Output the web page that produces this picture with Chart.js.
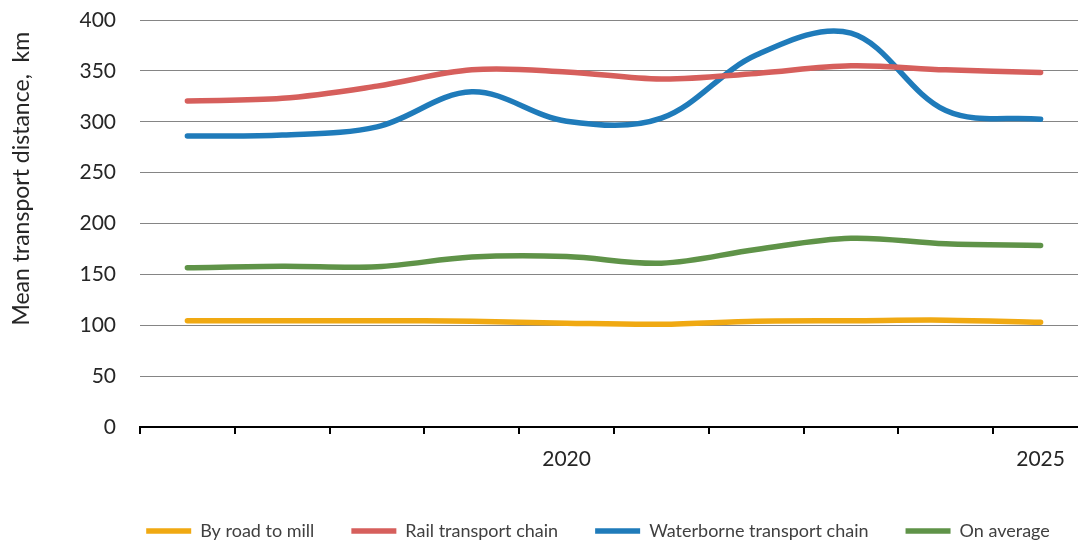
<!DOCTYPE html>
<html>
<head>
<meta charset="utf-8">
<script src="https://cdn.jsdelivr.net/npm/chart.js@4/dist/chart.umd.min.js"></script>
<style>
  html, body { margin: 0; padding: 0; background: #fff; overflow: hidden; }
  #wrap { width: 1078px; height: 541px; overflow: hidden; position: relative; }
  canvas { position: absolute; left: 0; top: 0; }
</style>
</head>
<body>
<div id="wrap"><canvas id="chart" width="1092" height="550"></canvas></div>
<script>
// ── Data ───────────────────────────────────────────
const years    = [2016, 2017, 2018, 2019, 2020, 2021, 2022, 2023, 2024, 2025];
const road     = [104.5, 104.5, 104.5, 104, 102, 101, 104, 104.5, 105, 103];
const rail     = [320.5, 323, 335, 351, 349, 342, 347.5, 355, 351, 348.5];
const water    = [286, 287, 295, 329.5, 300.5, 303.5, 365.5, 387, 311, 302.5];
const average  = [156.5, 158, 157.5, 167, 167.5, 161, 174.5, 185.5, 180, 178.5];
const yTicks   = [0, 50, 100, 150, 200, 250, 300, 350, 400];

const FONT = 'Lato';

function line(label, data, color) {
  return {
    label, data,
    borderColor: color,
    backgroundColor: color,
    borderWidth: 5.5,
    borderCapStyle: 'round',
    borderJoinStyle: 'round',
    pointRadius: 0,
    pointHoverRadius: 0,
    tension: 0.35,
    fill: false
  };
}

// legend sits a little right of the canvas centre in the original
const legendShift = {
  id: 'legendShift',
  afterLayout(chart) {
    chart.legend.left += 54;
    chart.legend.right += 54;
  }
};

new Chart(document.getElementById('chart'), {
  type: 'line',
  data: {
    labels: years,
    datasets: [
      line('By road to mill', road, '#F0A912'),
      line('Rail transport chain', rail, '#D65F5C'),
      line('Waterborne transport chain', water, '#1F7BBA'),
      line('On average', average, '#5F9348')
    ]
  },
  plugins: [legendShift],
  options: {
    responsive: false,
    animation: false,
    layout: { padding: { top: 20, left: 0, right: 4, bottom: 0 } },
    plugins: {
      tooltip: { enabled: false },
      legend: {
        position: 'bottom',
        labels: {
          usePointStyle: true,
          pointStyle: 'line',
          pointStyleWidth: 45,
          boxWidth: 45,
          padding: 37,
          color: '#404040',
          font: { family: FONT, size: 18 }
        }
      }
    },
    scales: {
      x: {
        offset: true,
        afterFit: s => { s.height = 58; },
        border: { color: '#000', width: 2 },
        grid: { offset: true, drawOnChartArea: false, drawTicks: true, tickLength: 7, color: '#000', lineWidth: 2 },
        ticks: {
          autoSkip: false, maxRotation: 0, padding: 13,
          color: '#262626',
          font: { family: FONT, size: 21 },
          callback: function (v) {
            const y = years[v];
            return y % 5 === 0 ? String(y) : '';
          }
        }
      },
      y: {
        min: 0, max: 400,
        afterFit: s => { s.width = 140; s.paddingTop = 0; s.paddingBottom = 0; },
        afterBuildTicks: s => { s.ticks = yTicks.map(v => ({ value: v })); },
        border: { display: false },
        grid: { color: '#858585', lineWidth: 1, drawTicks: false },
        ticks: {
          padding: 24,
          color: '#262626',
          font: { family: FONT, size: 21 }
        },
        title: {
          display: true,
          // trailing spaces nudge the end-aligned title down a little
          text: 'Mean transport distance,  km  ',
          align: 'end',
          color: '#262626',
          font: { family: FONT, size: 23 },
          padding: { top: 8, bottom: 0 }
        }
      }
    }
  }
});
</script>
</body>
</html>
